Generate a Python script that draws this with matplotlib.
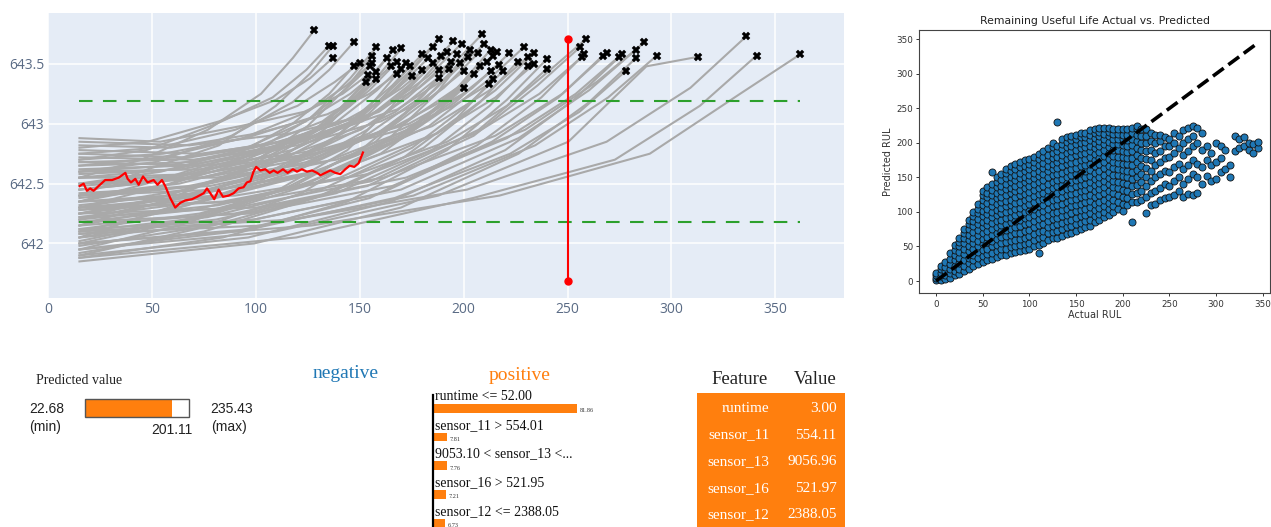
import matplotlib
matplotlib.use("Agg")
import matplotlib.pyplot as plt
from matplotlib.patches import Rectangle

# ---------------- data: sensor trajectories (plotly panel) ----------------
ENGINE_LIFE = [128, 135, 137, 137, 147, 147, 150, 153, 154, 155, 156, 156, 158, 158, 158,
               163, 165, 166, 168, 168, 170, 170, 172, 174, 175, 180, 180, 183, 185, 185,
               188, 188, 188, 189, 192, 193, 194, 195, 197, 198, 199, 200, 200, 202, 203,
               205, 207, 208, 209, 210, 211, 212, 213, 213, 214, 214, 216, 217, 219, 222,
               226, 229, 231, 231, 234, 234, 240, 240, 256, 257, 258, 259, 267, 269, 275,
               276, 278, 283, 283, 287, 293, 313, 336, 341, 362]
ENGINE_END = [643.78, 643.65, 643.65, 643.55, 643.68, 643.48, 643.51, 643.35, 643.41, 643.48,
              643.57, 643.51, 643.37, 643.64, 643.43, 643.55, 643.48, 643.62, 643.52, 643.42,
              643.63, 643.46, 643.51, 643.48, 643.40, 643.58, 643.45, 643.55, 643.64, 643.51,
              643.71, 643.45, 643.38, 643.57, 643.60, 643.46, 643.52, 643.69, 643.58, 643.51,
              643.67, 643.30, 643.44, 643.56, 643.62, 643.42, 643.59, 643.48, 643.75, 643.67,
              643.52, 643.33, 643.62, 643.44, 643.37, 643.57, 643.60, 643.49, 643.44, 643.59,
              643.52, 643.64, 643.56, 643.48, 643.59, 643.50, 643.54, 643.46, 643.64, 643.56,
              643.58, 643.71, 643.57, 643.59, 643.56, 643.58, 643.44, 643.62, 643.55, 643.68,
              643.57, 643.56, 643.73, 643.57, 643.58]
# sensor value at cycle 15 and at 35 %, 60 %, 80 %, 92 % of each engine's life
ENGINE_PATH = [
    [642.55, 642.70, 642.95, 643.25, 643.55], [642.70, 642.78, 643.00, 643.22, 643.45],
    [642.40, 642.62, 642.82, 643.15, 643.42], [642.80, 642.85, 643.02, 643.20, 643.38],
    [642.60, 642.68, 642.90, 643.18, 643.45], [642.35, 642.52, 642.72, 643.00, 643.25],
    [642.75, 642.80, 642.95, 643.15, 643.35], [642.25, 642.38, 642.60, 642.88, 643.12],
    [642.88, 642.85, 642.98, 643.10, 643.25], [642.50, 642.60, 642.78, 643.02, 643.28],
    [642.15, 642.35, 642.62, 642.98, 643.30], [642.65, 642.72, 642.88, 643.10, 643.32],
    [642.45, 642.52, 642.70, 642.92, 643.15], [642.30, 642.48, 642.72, 643.05, 643.38],
    [642.70, 642.75, 642.88, 643.05, 643.25], [642.20, 642.40, 642.62, 642.95, 643.30],
    [642.60, 642.65, 642.80, 643.02, 643.28], [642.05, 642.30, 642.58, 642.95, 643.32],
    [642.45, 642.55, 642.75, 643.00, 643.28], [642.82, 642.80, 642.92, 643.08, 643.25],
    [642.35, 642.50, 642.72, 643.02, 643.35], [642.10, 642.28, 642.52, 642.85, 643.18],
    [642.55, 642.62, 642.78, 643.00, 643.28], [642.25, 642.38, 642.58, 642.90, 643.20],
    [642.68, 642.70, 642.82, 643.00, 643.20], [642.40, 642.50, 642.70, 643.00, 643.32],
    [641.95, 642.15, 642.42, 642.78, 643.15], [642.58, 642.62, 642.78, 643.02, 643.30],
    [642.20, 642.38, 642.62, 642.98, 643.35], [642.75, 642.72, 642.85, 643.05, 643.30],
    [642.30, 642.45, 642.70, 643.05, 643.42], [642.48, 642.55, 642.72, 642.95, 643.22],
    [642.02, 642.20, 642.45, 642.78, 643.10], [642.62, 642.65, 642.80, 643.02, 643.30],
    [642.15, 642.32, 642.58, 642.95, 643.30], [642.40, 642.48, 642.65, 642.92, 643.20],
    [642.85, 642.82, 642.92, 643.08, 643.30], [642.50, 642.58, 642.78, 643.08, 643.40],
    [642.00, 642.20, 642.48, 642.85, 643.25], [642.32, 642.42, 642.62, 642.92, 643.22],
    [642.65, 642.68, 642.85, 643.10, 643.40], [642.18, 642.28, 642.48, 642.75, 643.05],
    [642.72, 642.70, 642.82, 643.02, 643.22], [642.28, 642.40, 642.62, 642.95, 643.28],
    [641.90, 642.12, 642.42, 642.85, 643.25], [642.55, 642.58, 642.72, 642.95, 643.18],
    [642.38, 642.48, 642.68, 642.98, 643.30], [642.12, 642.25, 642.50, 642.85, 643.18],
    [642.45, 642.55, 642.75, 643.10, 643.45], [642.78, 642.75, 642.88, 643.12, 643.40],
    [642.22, 642.35, 642.58, 642.90, 643.22], [642.60, 642.62, 642.75, 642.95, 643.15],
    [642.05, 642.22, 642.50, 642.88, 643.28], [642.35, 642.42, 642.60, 642.88, 643.18],
    [641.92, 642.10, 642.38, 642.72, 643.05], [642.50, 642.55, 642.72, 643.00, 643.30],
    [642.25, 642.38, 642.60, 642.95, 643.30], [642.68, 642.65, 642.78, 643.00, 643.25],
    [642.10, 642.22, 642.45, 642.80, 643.15], [642.42, 642.48, 642.68, 642.98, 643.30],
    [641.98, 642.15, 642.42, 642.80, 643.18], [642.30, 642.40, 642.62, 642.98, 643.35],
    [642.55, 642.55, 642.70, 642.98, 643.28], [642.08, 642.20, 642.42, 642.78, 643.15],
    [642.20, 642.32, 642.55, 642.92, 643.28], [642.40, 642.45, 642.62, 642.92, 643.22],
    [641.88, 642.05, 642.35, 642.78, 643.20], [642.28, 642.35, 642.55, 642.85, 643.15],
    [642.15, 642.25, 642.48, 642.90, 643.32], [642.35, 642.40, 642.58, 642.92, 643.25],
    [641.95, 642.10, 642.38, 642.82, 643.22], [642.22, 642.30, 642.52, 642.95, 643.40],
    [642.05, 642.18, 642.42, 642.85, 643.22], [642.30, 642.35, 642.55, 642.90, 643.25],
    [641.90, 642.05, 642.35, 642.78, 643.20], [642.18, 642.25, 642.48, 642.88, 643.25],
    [642.00, 642.12, 642.38, 642.75, 643.10], [642.12, 642.20, 642.45, 642.88, 643.28],
    [641.85, 642.00, 642.30, 642.75, 643.18], [642.25, 642.30, 642.55, 642.95, 643.35],
    [642.08, 642.15, 642.40, 642.82, 643.22], [641.95, 642.10, 642.40, 642.85, 643.48],
    [642.10, 642.20, 642.45, 642.85, 643.30], [641.88, 642.05, 642.38, 642.70, 643.15],
    [642.00, 642.15, 642.40, 642.75, 643.25],
]

UNIT_CYCLES = [15.1, 17.0, 18.6, 20.2, 21.8, 24.2, 27.4, 30.7, 33.9, 37.1, 38.2, 39.8, 41.9,
               43.5, 45.6, 47.8, 50.7, 52.6, 54.7, 56.3, 58.7, 61.1, 63.6, 66.0, 69.2, 71.6,
               74.8, 76.4, 78.0, 79.9, 82.0, 84.1, 86.8, 89.2, 91.6, 94.0, 95.6, 97.3, 98.8,
               100.1, 102.1, 104.5, 106.6, 108.5, 110.4, 113.0, 115.2, 117.8, 119.7, 122.1,
               124.5, 127.0, 129.4, 131.0, 133.4, 135.8, 138.2, 140.6, 143.0, 145.1, 147.3,
               149.4, 151.5]
UNIT_SENSOR = [642.48, 642.50, 642.44, 642.46, 642.44, 642.48, 642.53, 642.53, 642.55, 642.59,
               642.54, 642.51, 642.54, 642.49, 642.56, 642.51, 642.53, 642.49, 642.53, 642.48,
               642.38, 642.30, 642.34, 642.36, 642.37, 642.39, 642.42, 642.46, 642.42, 642.37,
               642.45, 642.39, 642.40, 642.42, 642.46, 642.47, 642.51, 642.52, 642.60, 642.64,
               642.61, 642.62, 642.59, 642.61, 642.59, 642.62, 642.59, 642.62, 642.60, 642.62,
               642.60, 642.61, 642.59, 642.57, 642.59, 642.61, 642.59, 642.58, 642.62, 642.65,
               642.64, 642.67, 642.76]

UPPER_LIMIT = 643.19
LOWER_LIMIT = 642.18
LIMIT_SPAN = [15, 362]
CURRENT_CYCLE = 250
CURRENT_RANGE = [641.69, 643.71]

# ---------------- data: RUL actual vs predicted ----------------
RUL_ACTUAL = list(range(0, 350, 5))
RUL_PRED = [
    [1, 4, 8, 12], [2, 7, 12, 17, 22], [3, 9, 15, 21, 27], [5, 11, 18, 25, 32, 40],
    [8, 15, 22, 30, 38, 45, 52], [10, 18, 26, 34, 42, 50, 57, 63],
    [14, 22, 31, 39, 47, 55, 63, 70, 76], [18, 26, 34, 43, 51, 59, 67, 75, 82, 89],
    [22, 30, 38, 47, 55, 63, 71, 79, 87, 94, 100],
    [24, 33, 42, 50, 58, 66, 74, 82, 90, 98, 105, 112],
    [28, 36, 45, 53, 61, 70, 78, 86, 94, 102, 110, 118, 125, 131],
    [30, 39, 47, 56, 64, 72, 81, 89, 97, 105, 113, 121, 128, 136],
    [32, 41, 50, 58, 67, 75, 84, 92, 100, 108, 116, 124, 132, 140, 158],
    [35, 44, 52, 61, 70, 78, 87, 95, 103, 112, 120, 128, 136, 144, 150],
    [38, 47, 55, 64, 72, 81, 89, 98, 106, 114, 122, 130, 138, 146, 155],
    [38, 47, 56, 65, 74, 82, 91, 100, 108, 116, 125, 133, 141, 149, 156, 162],
    [40, 49, 58, 67, 76, 85, 93, 102, 110, 118, 127, 135, 143, 151, 159, 167],
    [42, 51, 60, 69, 78, 87, 96, 104, 113, 121, 130, 138, 146, 154, 162, 170],
    [43, 52, 61, 70, 80, 89, 98, 106, 115, 124, 132, 141, 149, 157, 165, 172],
    [45, 54, 63, 72, 82, 91, 100, 109, 118, 126, 135, 143, 151, 159, 167, 175],
    [46, 55, 65, 74, 84, 93, 102, 111, 120, 129, 138, 146, 154, 162, 170, 177],
    [50, 59, 68, 78, 87, 96, 105, 114, 123, 132, 141, 149, 157, 165, 173, 180],
    [40, 52, 62, 71, 81, 90, 99, 108, 117, 126, 135, 144, 152, 160, 168, 176, 184],
    [55, 64, 73, 83, 92, 101, 110, 119, 128, 137, 146, 155, 163, 171, 179, 188],
    [60, 69, 78, 87, 96, 105, 114, 123, 132, 141, 150, 159, 167, 175, 183, 192],
    [62, 71, 80, 90, 99, 108, 117, 126, 135, 144, 153, 162, 170, 178, 186, 194, 200],
    [63, 72, 82, 91, 100, 110, 119, 128, 137, 146, 155, 164, 172, 180, 188, 196, 230],
    [65, 75, 84, 94, 103, 112, 121, 130, 139, 148, 157, 166, 175, 183, 191, 198, 205],
    [68, 78, 87, 96, 105, 115, 124, 133, 142, 151, 160, 169, 177, 186, 194, 201, 208],
    [70, 80, 89, 98, 108, 117, 126, 135, 144, 153, 162, 171, 180, 188, 196, 204, 210],
    [72, 82, 91, 101, 110, 119, 128, 137, 146, 155, 164, 173, 182, 190, 198, 206, 212],
    [75, 84, 94, 103, 112, 121, 130, 139, 148, 157, 166, 175, 184, 192, 200, 208, 215],
    [78, 87, 96, 105, 114, 123, 132, 141, 150, 159, 168, 177, 186, 194, 202, 209, 215],
    [80, 89, 98, 107, 116, 125, 134, 143, 152, 161, 170, 179, 188, 196, 204, 211, 218],
    [85, 94, 103, 112, 121, 130, 139, 148, 157, 166, 175, 184, 192, 200, 207, 214, 220],
    [88, 97, 106, 115, 124, 133, 142, 151, 160, 169, 178, 187, 195, 203, 210, 216, 222],
    [92, 100, 109, 118, 127, 136, 145, 154, 163, 172, 181, 190, 198, 206, 213, 222],
    [95, 104, 113, 122, 131, 140, 149, 158, 167, 176, 185, 194, 202, 210, 216, 222],
    [100, 109, 118, 127, 136, 145, 154, 163, 172, 181, 190, 198, 206, 213, 220],
    [105, 115, 125, 135, 144, 153, 162, 171, 180, 189, 198, 206, 213, 220],
    [102, 112, 122, 132, 142, 152, 161, 170, 179, 188, 197, 205, 212, 220],
    [110, 120, 130, 140, 150, 160, 169, 178, 187, 196, 204, 212, 220],
    [86, 115, 126, 137, 148, 158, 168, 178, 188, 197, 206, 214, 222],
    [115, 127, 139, 150, 161, 172, 183, 193, 203, 212, 220, 225],
    [118, 130, 143, 155, 167, 178, 190, 200, 210, 220],
    [99, 122, 137, 150, 163, 176, 188, 200, 210, 220],
    [110, 128, 145, 160, 175, 190, 203, 215],
    [112, 130, 150, 168, 185, 200, 212],
    [118, 135, 155, 172, 188, 203, 212],
    [120, 140, 160, 178, 195, 208],
    [122, 138, 158, 180, 195, 205],
    [125, 145, 165, 185, 200, 215],
    [130, 150, 170, 192, 210],
    [122, 140, 162, 182, 200, 218],
    [126, 148, 168, 188, 205, 222],
    [125, 155, 175, 195, 210, 225],
    [128, 150, 170, 200, 222],
    [140, 165, 190, 215],
    [152, 175, 195],
    [145, 168, 185],
    [148, 172, 200],
    [158, 178, 195],
    [162, 190],
    [150, 168],
    [188, 210],
    [192, 205],
    [195, 208],
    [190, 200],
    [185, 198],
    [192, 202],
]
IDEAL_LINE = [0, 345]

# ---------------- data: LIME explanation ----------------
PRED_MIN, PRED_MAX, PRED_VALUE = 22.68, 235.43, 201.11
RULES = ["runtime <= 52.00", "sensor_11 > 554.01", "9053.10 < sensor_13 <...",
         "sensor_16 > 521.95", "sensor_12 <= 2388.05"]
WEIGHTS = [81.86, 7.81, 7.76, 7.21, 6.73]
TABLE_FEATURES = ["runtime", "sensor_11", "sensor_13", "sensor_16", "sensor_12"]
TABLE_VALUES = ["3.00", "554.11", "9056.96", "521.97", "2388.05"]

# ---------------- figure ----------------
W, H = 1271, 527
fig = plt.figure(figsize=(W / 100, H / 100), dpi=100)


def frame(l, t, r, b):
    return [l / W, 1 - b / H, (r - l) / W, (b - t) / H]


PLOTLY_TXT = "#5a6b85"
ORANGE = "#ff7f0e"

# ---- plotly-like trajectory panel ----
ax = fig.add_axes(frame(48.3, 12.7, 844, 297.7))
ax.set_facecolor("#E5ECF6")
for s in ax.spines.values():
    s.set_visible(False)
ax.set_xlim(0, 383.1)
ax.set_ylim(641.547, 643.928)
ax.set_xticks([0, 50, 100, 150, 200, 250, 300, 350])
ax.set_yticks([642, 642.5, 643, 643.5])
ax.set_yticklabels(["642", "642.5", "643", "643.5"])
ax.grid(True, color="white", lw=1.1)
ax.set_axisbelow(True)
ax.tick_params(length=0, labelsize=10, labelcolor=PLOTLY_TXT, pad=3)
for lab in ax.get_xticklabels() + ax.get_yticklabels():
    lab.set_fontfamily("Open Sans")

for life, end, path in zip(ENGINE_LIFE, ENGINE_END, ENGINE_PATH):
    xs = [15, 0.35 * life, 0.6 * life, 0.8 * life, 0.92 * life, life]
    ys = list(path) + [end]
    ax.plot(xs, ys, color="#a9a9a9", lw=1.5, zorder=2, solid_joinstyle="round")
ax.plot(UNIT_CYCLES, UNIT_SENSOR, color="red", lw=1.6, zorder=4)
ax.plot(ENGINE_LIFE, ENGINE_END, ls="none", marker="X", ms=6, mfc="black",
        mec="black", mew=0.3, zorder=5)
for lim in (UPPER_LIMIT, LOWER_LIMIT):
    ax.plot(LIMIT_SPAN, [lim, lim], color="#2ca02c", lw=1.5, dashes=(6.5, 5), zorder=6)
ax.plot([CURRENT_CYCLE, CURRENT_CYCLE], CURRENT_RANGE, color="red", lw=1.5,
        marker="o", ms=5, zorder=7)

# ---- RUL scatter panel ----
ax2 = fig.add_axes(frame(919.3, 30, 1270, 293.3))
xs, ys = [], []
for a, preds in zip(RUL_ACTUAL, RUL_PRED):
    for p in preds:
        xs.append(a)
        ys.append(p)
ax2.scatter(xs, ys, s=26, c="#1f77b4", edgecolors="#111111", linewidths=0.6, zorder=2)
ax2.plot(IDEAL_LINE, IDEAL_LINE, "k--", lw=2.6, zorder=3)
ax2.set_xlim(-17.9, 357.8)
ax2.set_ylim(-17.8, 363.5)
ax2.set_xticks(range(0, 351, 50))
ax2.set_yticks(range(0, 351, 50))
ax2.tick_params(labelsize=6.3, length=2.5, width=0.7, colors="#333333", pad=2)
for s in ax2.spines.values():
    s.set_color("#444444")
    s.set_linewidth(0.8)
ax2.set_title("Remaining Useful Life Actual vs. Predicted", fontsize=7.8, color="#222222", pad=4)
ax2.set_xlabel("Actual RUL", fontsize=7, color="#333333", labelpad=1)
ax2.set_ylabel("Predicted RUL", fontsize=7, color="#333333", labelpad=2)

# ---- LIME overlay (pixel coordinates) ----
ov = fig.add_axes([0, 0, 1, 1], zorder=-1)
ov.set_xlim(0, W)
ov.set_ylim(H, 0)
ov.axis("off")
SERIF = "Liberation Serif"
SANS = "Liberation Sans"
ov.text(36, 380, "Predicted value", family=SERIF, fontsize=10, va="center", ha="left", color="#222222")
ov.text(29, 409, f"{PRED_MIN:.2f}", family=SANS, fontsize=10, va="center", ha="left", color="#222222")
ov.text(29, 427, "(min)", family=SANS, fontsize=10, va="center", ha="left", color="#222222")
ov.text(210.7, 409, f"{PRED_MAX:.2f}", family=SANS, fontsize=10, va="center", ha="left", color="#222222")
ov.text(210.7, 427, "(max)", family=SANS, fontsize=10, va="center", ha="left", color="#222222")
ov.text(192.7, 430, f"{PRED_VALUE:.2f}", family=SANS, fontsize=10, va="center", ha="right", color="#222222")
bar_l, bar_w = 85, 104
frac = (PRED_VALUE - PRED_MIN) / (PRED_MAX - PRED_MIN)
ov.add_patch(Rectangle((bar_l, 399.3), bar_w * frac, 17.4, facecolor=ORANGE, edgecolor="none"))
ov.add_patch(Rectangle((bar_l, 399.3), bar_w, 17.4, facecolor="none", edgecolor="#555555", lw=1))

ov.text(346, 374, "negative", family=SERIF, fontsize=14, va="center", ha="center", color="#1f77b4")
ov.text(519.7, 375, "positive", family=SERIF, fontsize=14, va="center", ha="center", color=ORANGE)

# table
ov.text(740, 379.3, "Feature", family=SERIF, fontsize=13.5, va="center", ha="center", color="#222222")
ov.text(814.7, 379.3, "Value", family=SERIF, fontsize=13.5, va="center", ha="center", color="#222222")
ov.add_patch(Rectangle((697.3, 393.3), 147.7, 140, facecolor=ORANGE, edgecolor="none"))
for k, (f, v) in enumerate(zip(TABLE_FEATURES, TABLE_VALUES)):
    yy = 408.5 + 26.6 * k
    ov.text(769.3, yy, f, family=SERIF, fontsize=11, va="center", ha="right", color="white")
    ov.text(836.7, yy, v, family=SERIF, fontsize=11, va="center", ha="right", color="white")

# feature weight bars
axb = fig.add_axes(frame(433.3, 390, 593.3, 527))
axb.set_xlim(0, 160 / 1.752)
axb.set_ylim(4.136, -0.638)
axb.axis("off")
rows = list(range(len(WEIGHTS)))
axb.barh(rows, WEIGHTS, height=0.30, color=ORANGE, left=0)
axb.plot([0, 0], [-0.463, 4.136], color="black", lw=1.6, clip_on=False)
for k, (rule, w) in enumerate(zip(RULES, WEIGHTS)):
    axb.text(0.9, k - 0.405, rule, family=SERIF, fontsize=10, va="center", ha="left", color="#111111")
    axb.text(w + 1.6, k + 0.09, f"{w:.2f}", family=SERIF, fontsize=4.5, va="center", ha="left",
             color="#333333", clip_on=True)

fig.savefig("out.png", dpi=100)
